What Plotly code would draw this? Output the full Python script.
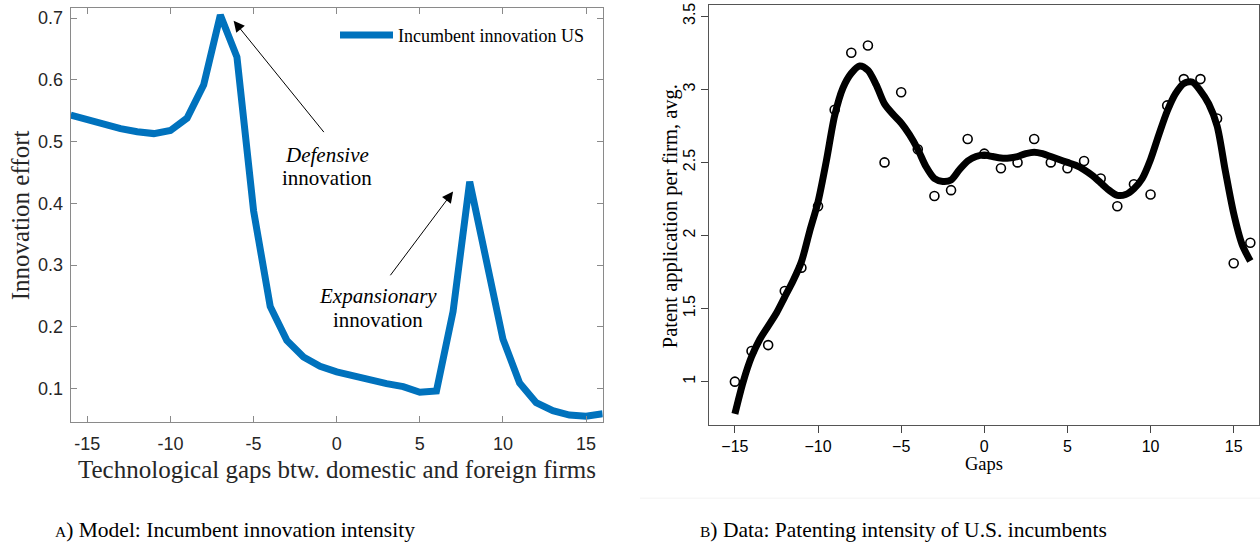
import plotly.graph_objects as go

# ---------------- Data ----------------
# Panel A: model (MATLAB style)
gap_model = [-16, -15, -14, -13, -12, -11, -10, -9, -8, -7, -6, -5, -4, -3, -2, -1, 0,
             1, 2, 3, 4, 5, 6, 7, 8, 9, 10, 11, 12, 13, 14, 15, 16]
innovation_effort = [0.543, 0.535, 0.528, 0.521, 0.516, 0.513, 0.518, 0.538, 0.592, 0.705,
                     0.637, 0.388, 0.233, 0.178, 0.151, 0.136, 0.127, 0.120, 0.114, 0.108,
                     0.103, 0.094, 0.096, 0.225, 0.435, 0.310, 0.180, 0.109, 0.077, 0.064,
                     0.057, 0.055, 0.059]
model_xticks = [-15, -10, -5, 0, 5, 10, 15]
model_xticklabels = ["-15", "-10", "-5", "0", "5", "10", "15"]
model_yticks = [0.1, 0.2, 0.3, 0.4, 0.5, 0.6, 0.7]
model_yticklabels = ["0.1", "0.2", "0.3", "0.4", "0.5", "0.6", "0.7"]

# Panel B: data (R style)
gap_data = [-15, -14, -13, -12, -11, -10, -9, -8, -7, -6, -5, -4, -3, -2, -1, 0,
            1, 2, 3, 4, 5, 6, 7, 8, 9, 10, 11, 12, 13, 14, 15, 16]
patents_avg = [1.00, 1.21, 1.25, 1.62, 1.78, 2.20, 2.86, 3.25, 3.30, 2.50, 2.98, 2.59,
               2.27, 2.31, 2.66, 2.56, 2.46, 2.50, 2.66, 2.50, 2.46, 2.51, 2.39, 2.20,
               2.35, 2.28, 2.89, 3.07, 3.07, 2.80, 1.81, 1.95]
smooth_gap = [-15, -14.5, -14, -13.5, -13, -12.5, -12, -11.5, -11, -10.5, -10, -9.5, -9,
              -8.5, -8, -7.5, -7, -6.5, -6, -5.5, -5, -4.5, -4, -3.5, -3, -2.5, -2, -1.5,
              -1, -0.5, 0, 0.5, 1, 1.5, 2, 2.5, 3, 3.5, 4, 4.5, 5, 5.5, 6, 6.5, 7, 7.5, 8,
              8.5, 9, 9.5, 10, 10.5, 11, 11.5, 12, 12.5, 13, 13.5, 14, 14.5, 15, 15.5, 16]
smooth_fit = [0.78, 1.00, 1.17, 1.29, 1.38, 1.47, 1.58, 1.69, 1.82, 2.03, 2.23, 2.51, 2.82,
              3.01, 3.11, 3.16, 3.13, 3.03, 2.90, 2.83, 2.77, 2.69, 2.59, 2.47, 2.39, 2.37,
              2.38, 2.45, 2.51, 2.54, 2.55, 2.54, 2.53, 2.53, 2.54, 2.56, 2.57, 2.56, 2.54,
              2.52, 2.50, 2.48, 2.45, 2.41, 2.36, 2.31, 2.275, 2.28, 2.32, 2.39, 2.52, 2.69,
              2.85, 2.97, 3.04, 3.05, 2.99, 2.90, 2.75, 2.44, 2.15, 1.94, 1.825]
data_xticks = [-15, -10, -5, 0, 5, 10, 15]
data_yticks = [1, 1.5, 2, 2.5, 3, 3.5]
data_yticklabels = ["1", "1.5", "2", "2.5", "3", "3.5"]

W, H = 1260, 548
SERIF = "Liberation Serif, Times New Roman, serif"
SANS = "Liberation Sans, Arial, sans-serif"


def fx(p):
    return p / W


def fy(p):
    return 1 - p / H


fig = go.Figure()

fig.add_trace(go.Scatter(
    x=gap_model, y=innovation_effort, mode="lines", name="Incumbent innovation US",
    line=dict(color="#0072BD", width=7), xaxis="x", yaxis="y", showlegend=True))

fig.add_trace(go.Scatter(
    x=smooth_gap, y=smooth_fit, mode="lines", line=dict(color="black", width=7, shape="spline", smoothing=0.8),
    xaxis="x2", yaxis="y2", showlegend=False))
fig.add_trace(go.Scatter(
    x=gap_data, y=patents_avg, mode="markers",
    marker=dict(symbol="circle-open", size=9, color="black", line=dict(width=1.6, color="black")),
    xaxis="x2", yaxis="y2", showlegend=False))

axis_gray = "#8a8a8a"
fig.update_layout(
    width=W, height=H, margin=dict(l=0, r=0, t=0, b=0),
    paper_bgcolor="white", plot_bgcolor="white",
    xaxis=dict(domain=[fx(70.7), fx(602.7)], range=[-16, 16], anchor="y",
               tickvals=model_xticks, ticktext=model_xticklabels,
               ticks="inside", ticklen=6, tickcolor=axis_gray, tickwidth=1,
               showline=True, linecolor=axis_gray, linewidth=1, mirror="ticks",
               showgrid=False, zeroline=False, ticklabelstandoff=5,
               tickfont=dict(family=SANS, size=18, color="#262626")),
    yaxis=dict(domain=[fy(422), fy(5.7)], range=[0.045, 0.717], anchor="x",
               tickvals=model_yticks, ticktext=model_yticklabels,
               ticks="inside", ticklen=6, tickcolor=axis_gray, tickwidth=1,
               showline=True, linecolor=axis_gray, linewidth=1, mirror="ticks",
               showgrid=False, zeroline=False, ticklabelstandoff=3,
               tickfont=dict(family=SANS, size=18, color="#262626")),
    xaxis2=dict(domain=[fx(709.3), fx(1259.3)], range=[-16.54, 16.54], anchor="y2",
                tickvals=data_xticks, ticks="outside", ticklen=7, tickcolor="#444", tickwidth=1,
                showline=True, linecolor="#555", linewidth=1, mirror=True,
                showgrid=False, zeroline=False, ticklabelstandoff=0,
                tickfont=dict(family=SANS, size=16, color="black")),
    yaxis2=dict(domain=[fy(424.3), fy(2.7)], range=[0.705, 3.579], anchor="x2",
                tickvals=data_yticks, ticktext=data_yticklabels, tickangle=-90,
                ticks="outside", ticklen=7, tickcolor="#444", tickwidth=1,
                showline=True, linecolor="#555", linewidth=1, mirror=True,
                showgrid=False, zeroline=False, ticklabelstandoff=0,
                tickfont=dict(family=SANS, size=16, color="black")),
    legend=dict(x=fx(335), y=fy(33.3), xanchor="left", yanchor="middle",
                bgcolor="rgba(0,0,0,0)", borderwidth=0, itemwidth=53,
                font=dict(family=SERIF, size=18, color="black")),
)

ann = []
# axis titles
ann.append(dict(text="Technological gaps btw. domestic and foreign firms", xref="paper", yref="paper",
                x=fx(336.7), y=fy(469), xanchor="center", yanchor="middle", showarrow=False,
                font=dict(family=SERIF, size=25, color="#262626")))
ann.append(dict(text="Innovation effort", xref="paper", yref="paper", textangle=-90,
                x=fx(20), y=fy(214), xanchor="center", yanchor="middle", showarrow=False,
                font=dict(family=SERIF, size=25, color="#262626")))
ann.append(dict(text="Gaps", xref="paper", yref="paper",
                x=fx(984.3), y=fy(464), xanchor="center", yanchor="middle", showarrow=False,
                font=dict(family=SERIF, size=18.5, color="black")))
ann.append(dict(text="Patent application per firm, avg.", xref="paper", yref="paper", textangle=-90,
                x=fx(670), y=fy(215), xanchor="center", yanchor="middle", showarrow=False,
                font=dict(family=SERIF, size=20.5, color="black")))
# callout texts
for txt, cx, cy in [("<i>Defensive</i>", 327, 153.5), ("innovation", 326.5, 177),
                    ("<i>Expansionary</i>", 377.5, 295), ("innovation", 377.6, 319.3)]:
    ann.append(dict(text=txt, xref="paper", yref="paper", x=fx(cx), y=fy(cy),
                    xanchor="center", yanchor="middle", showarrow=False,
                    font=dict(family=SERIF, size=21, color="black")))
# arrows
ann.append(dict(text="", xref="x", yref="y", axref="x", ayref="y",
                x=-6.2, y=0.696, ax=-0.7, ay=0.513, showarrow=True,
                arrowhead=2, arrowsize=2.2, arrowwidth=1, arrowcolor="black", standoff=0))
ann.append(dict(text="", xref="x", yref="y", axref="x", ayref="y",
                x=7.0, y=0.419, ax=3.16, ay=0.281, showarrow=True,
                arrowhead=2, arrowsize=2.2, arrowwidth=1, arrowcolor="black", standoff=0))
# captions
ann.append(dict(text="<span style='font-size:15.5px'>A</span>) Model: Incumbent innovation intensity",
                xref="paper", yref="paper", x=fx(235), y=fy(530), xanchor="center", yanchor="middle",
                showarrow=False, font=dict(family=SERIF, size=21.5, color="black")))
ann.append(dict(text="<span style='font-size:15.5px'>B</span>) Data: Patenting intensity of U.S. incumbents",
                xref="paper", yref="paper", x=fx(903.4), y=fy(530), xanchor="center", yanchor="middle",
                showarrow=False, font=dict(family=SERIF, size=21.5, color="black")))
fig.update_layout(annotations=ann)

fig.add_shape(type="line", xref="paper", yref="paper", x0=fx(640), x1=1, y0=fy(498), y1=fy(498),
              line=dict(color="#f3f3f3", width=1))

fig.write_html("out.html")
